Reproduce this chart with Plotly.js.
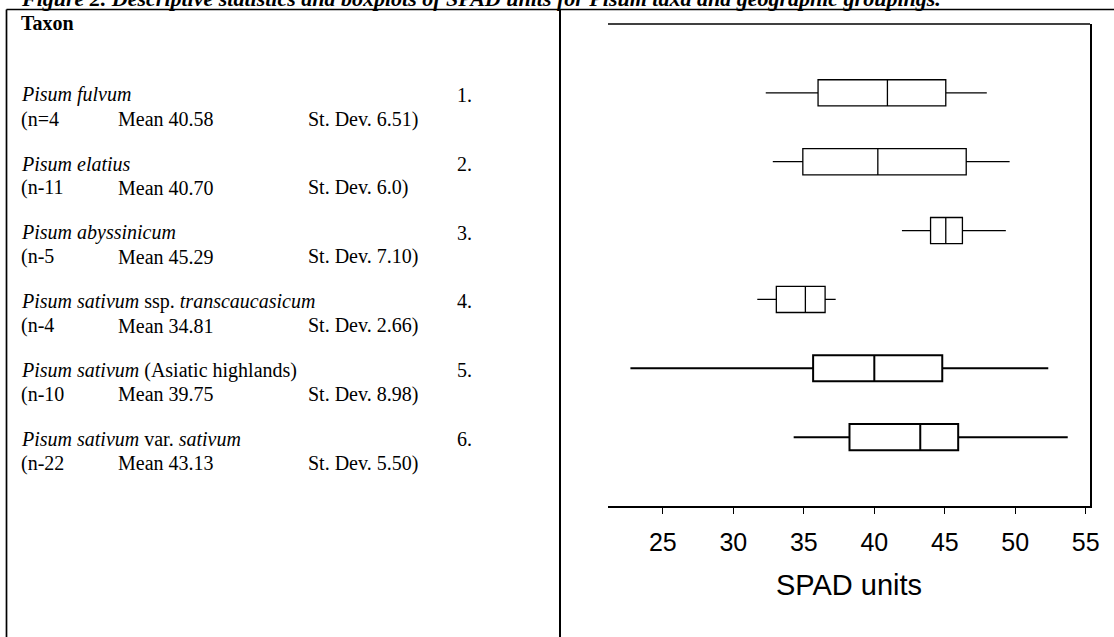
<!DOCTYPE html>
<html>
<head>
<meta charset="utf-8">
<script src="https://cdn.plot.ly/plotly-3.0.1.min.js"></script>
<style>
  html, body { margin: 0; padding: 0; background: #ffffff; }
  #chart { width: 1114px; height: 637px; }
</style>
</head>
<body>
<div id="chart"></div>
<script>
// ---- Data ----
const taxaNames = [
  "<i>Pisum fulvum</i>",
  "<i>Pisum elatius</i>",
  "<i>Pisum abyssinicum</i>",
  "<i>Pisum sativum</i> ssp. <i>transcaucasicum</i>",
  "<i>Pisum sativum</i> (Asiatic highlands)",
  "<i>Pisum sativum</i> var. <i>sativum</i>"
];
const nLabels   = ["(n=4", "(n-11", "(n-5", "(n-4", "(n-10", "(n-22"];
const meanLabels = ["Mean 40.58", "Mean 40.70", "Mean 45.29", "Mean 34.81", "Mean 39.75", "Mean 43.13"];
const sdLabels  = ["St. Dev. 6.51)", "St. Dev. 6.0)", "St. Dev. 7.10)", "St. Dev. 2.66)", "St. Dev. 8.98)", "St. Dev. 5.50)"];
const rowNumbers = ["1.", "2.", "3.", "4.", "5.", "6."];
const rowPos = [1, 2, 3, 4, 5, 6];

// box statistics (SPAD units)
const lowerWhisker = [32.30, 32.80, 41.96, 31.70, 22.70, 34.28];
const q1Values     = [36.01, 34.93, 43.99, 33.05, 35.66, 38.24];
const medianValues = [40.93, 40.25, 45.07, 35.11, 40.00, 43.26];
const q3Values     = [45.07, 46.52, 46.25, 36.51, 44.82, 45.95];
const upperWhisker = [47.98, 49.60, 49.33, 37.26, 52.34, 53.72];

const xTickVals = [25, 30, 35, 40, 45, 50, 55];
const xTitle = "SPAD units";
const figTitle = "Figure 2. Descriptive statistics and boxplots of SPAD units for Pisum taxa and geographic groupings.";

// ---- Layout geometry (pixels) ----
const L = 608, R = 1090, T = 24, B = 506;
function px(x) { return (x - L) / (R - L); }
function py(y) { return (B - y) / (B - T); }

const lineW = [1.3, 1.3, 1.3, 1.3, 2, 2];

const traces = rowPos.map((p, i) => ({
  type: "box",
  orientation: "h",
  y: [p],
  q1: [q1Values[i]],
  median: [medianValues[i]],
  q3: [q3Values[i]],
  lowerfence: [lowerWhisker[i]],
  upperfence: [upperWhisker[i]],
  width: 0.38,
  whiskerwidth: 0,
  boxpoints: false,
  fillcolor: "#ffffff",
  line: { color: "#000000", width: lineW[i] },
  hoverinfo: "skip",
  showlegend: false
}));

const serif = "Liberation Serif, Times New Roman, serif";
const sans = "Liberation Sans, Arial, sans-serif";

const annotations = [];
// Figure title (cropped at top in the reference)
annotations.push({
  text: "<b><i>" + figTitle + "</i></b>",
  xref: "paper", yref: "paper", x: px(19), y: py(13), xanchor: "left", yanchor: "bottom",
  showarrow: false, font: { family: serif, size: 22, color: "#000" }
});
// Taxon header
annotations.push({
  text: "<b>Taxon</b>",
  xref: "paper", yref: "paper", x: px(19), y: py(22.5), xanchor: "left", yanchor: "middle",
  showarrow: false, font: { family: serif, size: 20, color: "#000" }
});
const colName = 19, colMean = 116, colSd = 306, colNum = 455;
rowPos.forEach((p, i) => {
  const f = { family: serif, size: 20, color: "#000" };
  annotations.push({ text: taxaNames[i], xref: "paper", yref: "y", x: px(colName), y: p + 0.03, xanchor: "left", yanchor: "middle", showarrow: false, font: f });
  annotations.push({ text: rowNumbers[i], xref: "paper", yref: "y", x: px(colNum), y: p + 0.03, xanchor: "left", yanchor: "middle", showarrow: false, font: f });
  annotations.push({ text: nLabels[i], xref: "paper", yref: "y", x: px(colName), y: p + 0.38, xanchor: "left", yanchor: "middle", showarrow: false, font: f });
  annotations.push({ text: meanLabels[i], xref: "paper", yref: "y", x: px(colMean), y: p + 0.38, xanchor: "left", yanchor: "middle", showarrow: false, font: f });
  annotations.push({ text: sdLabels[i], xref: "paper", yref: "y", x: px(colSd), y: p + 0.38, xanchor: "left", yanchor: "middle", showarrow: false, font: f });
});

const shapes = [
  // outer table top border
  { type: "line", xref: "paper", yref: "paper", x0: px(6.5), x1: px(1120), y0: py(9.5), y1: py(9.5), line: { color: "#000", width: 1.7 } },
  // left border
  { type: "line", xref: "paper", yref: "paper", x0: px(6.5), x1: px(6.5), y0: py(9.5), y1: py(645), line: { color: "#000", width: 1.7 } },
  // middle divider
  { type: "line", xref: "paper", yref: "paper", x0: px(560), x1: px(560), y0: py(9.5), y1: py(645), line: { color: "#000", width: 2 } },
  // plot top frame line
  { type: "line", xref: "paper", yref: "paper", x0: 0, x1: 1, y0: 1, y1: 1, line: { color: "#000", width: 1.3 } }
];

const layout = {
  width: 1114, height: 637,
  margin: { l: L, r: 1114 - R, t: T, b: 637 - B, pad: 0 },
  paper_bgcolor: "#ffffff", plot_bgcolor: "#ffffff",
  showlegend: false,
  xaxis: {
    range: [21.11, 55.3],
    tickvals: xTickVals,
    ticktext: xTickVals.map(String),
    ticks: "outside", ticklen: 6, tickwidth: 1.3, tickcolor: "#000",
    showline: true, linewidth: 2, linecolor: "#000",
    showgrid: false, zeroline: false,
    tickfont: { family: sans, size: 25, color: "#000" },
    ticklabelstandoff: 7,
    title: { text: xTitle, font: { family: sans, size: 29, color: "#000" }, standoff: 20 },
    automargin: false, fixedrange: true
  },
  yaxis: {
    range: [7, 0],
    side: "right",
    showline: true, linewidth: 2, linecolor: "#000",
    showticklabels: false, ticks: "",
    showgrid: false, zeroline: false,
    automargin: false, fixedrange: true
  },
  annotations: annotations,
  shapes: shapes
};

Plotly.newPlot("chart", traces, layout, { displayModeBar: false, staticPlot: true });
</script>
</body>
</html>
